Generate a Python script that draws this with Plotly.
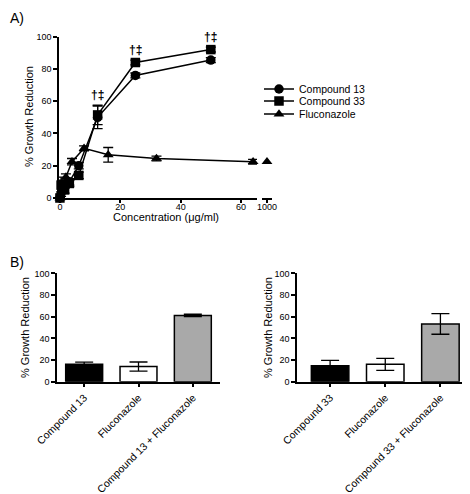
import plotly.graph_objects as go

# page body has an 8px margin, so the figure is placed 8px in from the top-left
OFF = 8
W, H = 470 - OFF, 494 - OFF
FONT = "Liberation Sans, Arial, Helvetica, sans-serif"


def px(x):
    return (x - OFF) / W


def py(y):
    return 1 - (y - OFF) / H


# ---- Panel A data ----
conc_cmp = [0, 0.39, 0.78, 1.56, 3.125, 6.25, 12.5, 25, 50]
c13_vals = [0, 3, 5, 8, 10, 20, 50, 76, 85.5]
c13_err = [0, 2, 2, 2, 2, 2, 7, 1.5, 1.5]
c33_vals = [0, 8, 7, 5, 9, 14, 51.5, 84, 92]
c33_err = [0, 5, 2, 2, 2, 2, 6, 1.5, 1.5]
conc_flu = [0, 0.5, 1, 2, 4, 8, 16, 32, 64]
flu_vals = [0, 5, 9, 13, 22.5, 30.8, 26.8, 24.5, 22.5]
flu_err = [0, 2, 2, 2, 2, 1.5, 4.5, 1.5, 1.5]
flu_high_conc = [1000]
flu_high_vals = [22.5]
sig_conc = [12.5, 25, 50]
sig_label = "†‡"

# ---- Panel B data ----
cats_left = ["Compound 13", "Fluconazole", "Compound 13 + Fluconazole"]
vals_left = [16, 14, 61.2]
err_left = [2, 4.2, 1.1]
cats_right = ["Compound 33", "Fluconazole", "Compound 33 + Fluconazole"]
vals_right = [14.8, 16, 53.3]
err_right = [4.8, 5.5, 9.5]
bar_colors = ["#000000", "#ffffff", "#a9a9a9"]

fig = go.Figure()

mk = dict(color="black", size=9.5)
ln = dict(color="black", width=1.5)
eb = lambda e: dict(type="data", array=e, visible=True, color="black", thickness=1.3, width=5)

fig.add_trace(go.Scatter(x=conc_cmp, y=c13_vals, error_y=eb(c13_err), mode="lines+markers",
                         name="Compound 13", marker=dict(symbol="circle", **mk), line=ln,
                         cliponaxis=False, xaxis="x", yaxis="y", legend="legend"))
fig.add_trace(go.Scatter(x=conc_cmp, y=c33_vals, error_y=eb(c33_err), mode="lines+markers",
                         name="Compound 33", marker=dict(symbol="square", **mk), line=ln,
                         cliponaxis=False, xaxis="x", yaxis="y", legend="legend2"))
fig.add_trace(go.Scatter(x=conc_flu, y=flu_vals, error_y=eb(flu_err), mode="lines+markers",
                         name="Fluconazole", marker=dict(symbol="triangle-up", **mk), line=ln,
                         cliponaxis=False, xaxis="x", yaxis="y", legend="legend3"))
fig.add_trace(go.Scatter(x=flu_high_conc, y=flu_high_vals, mode="markers", showlegend=False,
                         marker=dict(symbol="triangle-up", **mk), cliponaxis=False,
                         xaxis="x4", yaxis="y"))

# significance markers above the compound points
for c in sig_conc:
    i = conc_cmp.index(c)
    top = max(c33_vals[i] + c33_err[i], c13_vals[i] + c13_err[i])
    fig.add_annotation(x=c, y=top, xref="x", yref="y", text="<b>" + sig_label + "</b>", showarrow=False,
                       yanchor="bottom", yshift=1,
                       font=dict(size=12, family=FONT, color="black"))

fig.add_trace(go.Bar(x=cats_left, y=vals_left, marker=dict(color=bar_colors, line=dict(color="black", width=1.5)),
                     error_y=dict(type="data", array=err_left, visible=True, color="black", thickness=1.3, width=9),
                     width=0.68, showlegend=False, xaxis="x2", yaxis="y2"))
fig.add_trace(go.Bar(x=cats_right, y=vals_right, marker=dict(color=bar_colors, line=dict(color="black", width=1.5)),
                     error_y=dict(type="data", array=err_right, visible=True, color="black", thickness=1.3, width=9),
                     width=0.68, showlegend=False, xaxis="x3", yaxis="y3"))

ax = dict(showline=True, linecolor="black", linewidth=1.5, ticks="outside", ticklen=4,
          tickwidth=1.5, tickcolor="black", showgrid=False, zeroline=False, automargin=False,
          tickfont=dict(size=9, family=FONT, color="black"))

ydomA = [py(198), py(36.7)]
ydomB = [py(381.7), py(273.4)]
yticks = [0, 20, 40, 60, 80, 100]

leg = dict(x=px(259), xanchor="left", yanchor="middle", font=dict(size=10.5, family=FONT, color="black"),
           bgcolor="rgba(0,0,0,0)", itemwidth=30)

fig.update_layout(
    width=W, height=H, margin=dict(l=0, r=0, t=0, b=0),
    paper_bgcolor="white", plot_bgcolor="white",
    font=dict(family=FONT, color="black"),
    xaxis=dict(**ax, domain=[px(59), px(257)], range=[-0.3, 65.3], tickvals=[0, 20, 40, 60], anchor="y"),
    yaxis=dict(**ax, domain=ydomA, range=[0, 100], tickvals=yticks, anchor="x"),
    xaxis4=dict(**ax, domain=[px(262), px(272)], range=[997, 1003], tickvals=[1000], anchor="y"),
    xaxis2=dict(**ax, domain=[px(57), px(220)], range=[-0.5, 2.5], tickangle=-45, anchor="y2"),
    yaxis2=dict(**ax, domain=ydomB, range=[0, 100], tickvals=yticks, anchor="x2"),
    xaxis3=dict(**ax, domain=[px(297), px(468)], range=[-0.6, 2.5], tickangle=-45, anchor="y3"),
    yaxis3=dict(**ax, domain=ydomB, range=[0, 100], tickvals=yticks, anchor="x3"),
    legend=dict(**leg, y=py(89)),
    legend2=dict(**leg, y=py(101)),
    legend3=dict(**leg, y=py(114)),
    bargap=0.3,
)
fig.update_xaxes(ticklen=3, ticklabelstandoff=-4, selector=dict(anchor="y"))
fig.update_xaxes(tickfont_size=10.5, selector=dict(anchor="y2"))
fig.update_xaxes(tickfont_size=10.5, selector=dict(anchor="y3"))

tfont = dict(size=11, family=FONT, color="black")
# axis titles
fig.add_annotation(x=(px(59) + px(272)) / 2, y=py(217), xref="paper", yref="paper",
                   xanchor="center", yanchor="middle",
                   text="Concentration (μg/ml)", showarrow=False, font=tfont)
for xt, yc in [(29, 117), (25, 328), (268, 328)]:
    fig.add_annotation(x=px(xt), y=py(yc), xref="paper", yref="paper", text="% Growth Reduction",
                       xanchor="center", yanchor="middle",
                       textangle=-90, showarrow=False, font=tfont)

fig.add_annotation(x=0, y=1, xref="paper", yref="paper", text="A)", showarrow=False,
                   xanchor="left", yanchor="top", font=dict(size=14, family=FONT))
fig.add_annotation(x=0, y=py(252), xref="paper", yref="paper", text="B)", showarrow=False,
                   xanchor="left", yanchor="top", font=dict(size=14, family=FONT))

fig.write_html("out.html")
